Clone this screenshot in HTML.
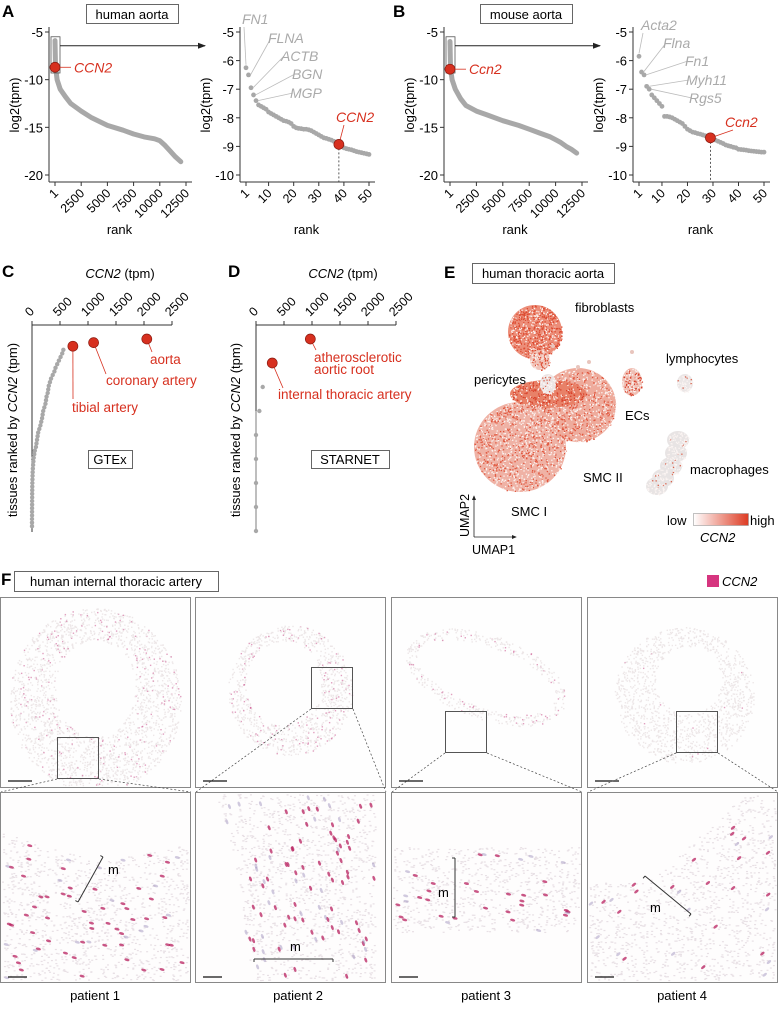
<!DOCTYPE html>
<html><head><meta charset="utf-8"><style>
html,body{margin:0;padding:0;background:#fff;}
svg{display:block;font-family:"Liberation Sans",Arial,sans-serif;}
</style></head><body>
<svg id="fig" width="778" height="1015" viewBox="0 0 778 1015" xmlns="http://www.w3.org/2000/svg">
<defs>
<marker id="arr" markerWidth="8" markerHeight="8" refX="7" refY="4" orient="auto"><path d="M0,1 L8,4 L0,7 z" fill="#222"/></marker>
<marker id="arrs" markerWidth="6" markerHeight="6" refX="5" refY="3" orient="auto"><path d="M0,0.5 L6,3 L0,5.5 z" fill="#222"/></marker>
<linearGradient id="cbar" x1="0" x2="1" y1="0" y2="0"><stop offset="0" stop-color="#ffffff"/><stop offset="1" stop-color="#dd3a22"/></linearGradient>
</defs>
<g id="static" font-size="13">
<text x="2" y="17" font-weight="bold" font-size="17">A</text>
<text x="393" y="17" font-weight="bold" font-size="17">B</text>
<text x="2" y="277" font-weight="bold" font-size="17">C</text>
<text x="228" y="277" font-weight="bold" font-size="17">D</text>
<text x="444" y="278" font-weight="bold" font-size="17">E</text>
<text x="1" y="585" font-weight="bold" font-size="17">F</text>
<g><rect x="86.5" y="4.5" width="92" height="19" fill="none" stroke="#666"/><text x="132" y="19" text-anchor="middle">human aorta</text></g>
<g><rect x="480.5" y="4.5" width="92" height="19" fill="none" stroke="#666"/><text x="526" y="19" text-anchor="middle">mouse aorta</text></g>
<g><rect x="472.5" y="263.5" width="142" height="20" fill="none" stroke="#666"/><text x="543" y="278" text-anchor="middle">human thoracic aorta</text></g>
<g><rect x="14.5" y="571.5" width="204" height="20" fill="none" stroke="#666"/><text x="116" y="586" text-anchor="middle">human internal thoracic artery</text></g>
<text x="120" y="278" text-anchor="middle"><tspan font-style="italic">CCN2</tspan> (tpm)</text>
<text x="343" y="278" text-anchor="middle"><tspan font-style="italic">CCN2</tspan> (tpm)</text>
<text transform="translate(17,430) rotate(-90)" text-anchor="middle">tissues ranked by <tspan font-style="italic">CCN2</tspan> (tpm)</text>
<text transform="translate(240,430) rotate(-90)" text-anchor="middle">tissues ranked by <tspan font-style="italic">CCN2</tspan> (tpm)</text>
<g><rect x="88.5" y="450.5" width="44" height="18" fill="none" stroke="#666"/><text x="110" y="464" text-anchor="middle">GTEx</text></g>
<g><rect x="311.5" y="450.5" width="78" height="18" fill="none" stroke="#666"/><text x="350" y="464" text-anchor="middle">STARNET</text></g>
<rect x="707" y="575" width="12" height="12" fill="#d6357f"/>
<text x="722" y="586" font-style="italic">CCN2</text>
<text x="95" y="1000" text-anchor="middle">patient 1</text>
<text x="298" y="1000" text-anchor="middle">patient 2</text>
<text x="486" y="1000" text-anchor="middle">patient 3</text>
<text x="682" y="1000" text-anchor="middle">patient 4</text>
</g>
<g id="dyn"></g>
</svg>
<script>
// ---- DATA ----
const humanRanks=[1,50,200,500,1000,1500,2500,3500,5000,6500,7500,8500,9500,10000,10500,11000,11500,12000];
const humanVals=[-5.9,-8.6,-10,-11,-11.8,-12.5,-13.3,-14.0,-14.8,-15.3,-15.7,-16.0,-16.2,-16.4,-16.9,-17.5,-18.1,-18.6];
const mouseRanks=[1,50,200,500,1000,1500,2500,3500,5000,6500,7500,8500,9500,10000,10500,11000,11500,12000];
const mouseVals=[-6.0,-8.8,-10,-11,-12.0,-12.7,-13.3,-13.7,-14.3,-14.8,-15.2,-15.6,-16.0,-16.3,-16.6,-17.0,-17.3,-17.7];
const humanTop50=[-6.25,-6.5,-6.95,-7.2,-7.4,-7.55,-7.6,-7.65,-7.7,-7.8,-7.85,-7.9,-7.95,-8.0,-8.05,-8.1,-8.12,-8.15,-8.2,-8.3,-8.35,-8.37,-8.38,-8.4,-8.4,-8.42,-8.45,-8.5,-8.55,-8.6,-8.65,-8.7,-8.72,-8.75,-8.78,-8.82,-8.88,-8.93,-9.0,-9.05,-9.08,-9.1,-9.12,-9.15,-9.18,-9.2,-9.22,-9.24,-9.26,-9.28];
const humanTopLabels=["FN1","FLNA","ACTB","BGN","MGP"];
const humanHighlightRank=38;
const mouseTop50=[-5.85,-6.4,-6.5,-6.9,-7.0,-7.2,-7.3,-7.4,-7.5,-7.6,-7.95,-7.95,-7.97,-8.0,-8.05,-8.1,-8.15,-8.2,-8.3,-8.4,-8.45,-8.5,-8.52,-8.55,-8.57,-8.6,-8.63,-8.67,-8.7,-8.75,-8.78,-8.82,-8.86,-8.9,-8.95,-8.98,-9.0,-9.03,-9.05,-9.1,-9.11,-9.12,-9.13,-9.15,-9.16,-9.17,-9.18,-9.19,-9.2,-9.2];
const mouseTopLabels=["Acta2","Flna","Fn1","Myh11","Rgs5"];
const mouseHighlightRank=29;
const rankTicks=[1,2500,5000,7500,10000,12500];
const zoomTicks=[1,10,20,30,40,50];
const log2Ticks=[-5,-10,-15,-20];
const log2ZoomTicks=[-5,-6,-7,-8,-9,-10];
const tpmTicks=[0,500,1000,1500,2000,2500];
const gtexVals=[2050,1100,730,560,540,510,480,450,420,400,370,340,320,300,290,280,260,250,240,220,200,190,180,165,150,130,110,100,90,80,70,50,40,30,25,20,15,12,10,8,6,5,4,3,3,2,2,1,1,1,0,0,0];
const gtexLabels=["aorta","coronary artery","tibial artery"];
const starnetVals=[970,290,120,60,0,0,0,0,0];
const starnetLabels=[["atherosclerotic","aortic root"],["internal thoracic artery"]];

const NS="http://www.w3.org/2000/svg";
const root=document.getElementById('dyn');
function mk(tag,attrs,parent){const e=document.createElementNS(NS,tag);for(const k in attrs)e.setAttribute(k,attrs[k]);(parent||root).appendChild(e);return e;}
function txt(s,attrs,parent){const e=mk('text',attrs,parent);e.textContent=s;return e;}
const RED="#d7301f", GRAY="#a8a8a8";

function rankPlot(o){
  const g=mk('g',{});
  
  
  const X=r=>o.x0+(r-1)*(o.x1-o.x0)/(12500-1);
  const Y=v=>32+(v+5)*(175-32)/(-15);
  mk('line',{x1:o.ax,y1:27,x2:o.ax,y2:182,stroke:'#333'},g);
  mk('line',{x1:o.ax,y1:182,x2:o.x1+6,y2:182,stroke:'#333'},g);
  log2Ticks.forEach(t=>{mk('line',{x1:o.ax-4,y1:Y(t),x2:o.ax,y2:Y(t),stroke:'#333'},g);
    const l=txt(String(t),{x:o.ax-6,y:Y(t)+5,'text-anchor':'end','font-size':13},g);
    });
  rankTicks.forEach(t=>{mk('line',{x1:X(t),y1:182,x2:X(t),y2:186,stroke:'#333'},g);
    const l=txt(String(t),{transform:`translate(${X(t)+4},${194}) rotate(-45)`,'text-anchor':'end','font-size':12.5},g);
    });
  const t=txt('rank',{x:(o.ax+o.x1)/2+2,y:234,'text-anchor':'middle','font-size':13},g);
  
  const yl=txt('log2(tpm)',{transform:`translate(${o.ax-30},105) rotate(-90)`,'text-anchor':'middle','font-size':13},g);
  
  let d='';o.ranks.forEach((r,i)=>{d+=(i?'L':'M')+X(r).toFixed(1)+','+Y(o.vals[i]).toFixed(1);});
  const p=mk('path',{d:d,fill:'none',stroke:GRAY,'stroke-width':5,'stroke-linecap':'round','stroke-linejoin':'round'},g);
  
  const bx=X(1)-4,by=Y(-5.5),bh=Y(o.boxLow)-by;
  mk('rect',{x:bx,y:by,width:9,height:bh,fill:'none',stroke:'#555','stroke-width':0.8},g);
  mk('line',{x1:bx+9,y1:by+9,x2:o.arrowTo,y2:by+9,stroke:'#222','marker-end':'url(#arr)'},g);
  const c=mk('circle',{cx:X(1),cy:Y(o.hl),r:5,fill:RED,stroke:'#8a1a10','stroke-width':0.7},g);
  
  mk('line',{x1:X(1)+5,y1:Y(o.hl),x2:X(1)+16,y2:Y(o.hl),stroke:RED,'stroke-width':0.8},g);
  const hl=txt(o.hlName,{x:X(1)+19,y:Y(o.hl)+5,fill:RED,'font-style':'italic','font-size':14},g);
  
}
function zoomPlot(o){
  const g=mk('g',{});
  
  
  const X=r=>o.x0+(r-1)*(o.x1-o.x0)/49;
  const Y=v=>32+(v+5)*(175-32)/(-5);
  mk('line',{x1:o.ax,y1:27,x2:o.ax,y2:182,stroke:'#333'},g);
  mk('line',{x1:o.ax,y1:182,x2:o.x1+6,y2:182,stroke:'#333'},g);
  log2ZoomTicks.forEach(t=>{mk('line',{x1:o.ax-4,y1:Y(t),x2:o.ax,y2:Y(t),stroke:'#333'},g);
    const l=txt(String(t),{x:o.ax-6,y:Y(t)+5,'text-anchor':'end','font-size':13},g);
    });
  zoomTicks.forEach(t=>{mk('line',{x1:X(t),y1:182,x2:X(t),y2:186,stroke:'#333'},g);
    const l=txt(String(t),{transform:`translate(${X(t)+4},${194}) rotate(-45)`,'text-anchor':'end','font-size':12.5},g);
    });
  const t=txt('rank',{x:(o.ax+o.x1)/2+2,y:234,'text-anchor':'middle','font-size':13},g);
  
  const yl=txt('log2(tpm)',{transform:`translate(${o.ax-30},105) rotate(-90)`,'text-anchor':'middle','font-size':13},g);
  
  o.vals.forEach((v,i)=>{const c=mk('circle',{cx:X(i+1),cy:Y(v),r:2.4,fill:GRAY},g);
    });
  o.labels.forEach((s,i)=>{const lx=o.lab[i][0],ly=o.lab[i][1];
    const px=X(o.labRanks[i]),py=Y(o.vals[o.labRanks[i]-1]);
    if(i===0) mk('line',{x1:px,y1:py-3,x2:lx+2,y2:ly+3,stroke:'#bbb','stroke-width':0.8},g);
    else mk('line',{x1:px+2,y1:py,x2:lx+3,y2:ly-5,stroke:'#bbb','stroke-width':0.8},g);
    const l=txt(s,{x:lx,y:ly,fill:'#aaa','font-style':'italic','font-size':14},g);
    });
  const hx=X(o.hr),hy=Y(o.vals[o.hr-1]);
  mk('line',{x1:hx,y1:hy,x2:hx,y2:182,stroke:'#333','stroke-dasharray':'2,2','stroke-width':0.8},g);
  mk('line',{x1:hx,y1:hy,x2:o.hlPos[0]+8,y2:o.hlPos[1]+3,stroke:RED,'stroke-width':0.8},g);
  const c=mk('circle',{cx:hx,cy:hy,r:5,fill:RED,stroke:'#8a1a10','stroke-width':0.7},g);
  
  const hl=txt(o.hlName,{x:o.hlPos[0],y:o.hlPos[1],fill:RED,'font-style':'italic','font-size':14},g);
  
}
rankPlot({name:'human-aorta-rank-plot',ax:49,x0:55,x1:186,ranks:humanRanks,vals:humanVals,hl:humanTop50[humanHighlightRank-1]+0.23,hlName:'CCN2',boxLow:-9.3,arrowTo:205});
zoomPlot({name:'human-aorta-top50-plot',ax:240,x0:246,x1:369,vals:humanTop50,labels:humanTopLabels,labRanks:[1,2,3,4,5],lab:[[242,24],[268,43],[281,61],[292,79],[290,98]],hr:humanHighlightRank,hlName:'CCN2',hlPos:[336,122]});
rankPlot({name:'mouse-aorta-rank-plot',ax:444,x0:450,x1:582,ranks:mouseRanks,vals:mouseVals,hl:mouseTop50[mouseHighlightRank-1]-0.2,hlName:'Ccn2',boxLow:-9.3,arrowTo:600});
zoomPlot({name:'mouse-aorta-top50-plot',ax:633,x0:639,x1:764,vals:mouseTop50,labels:mouseTopLabels,labRanks:[1,2,3,4,5],lab:[[641,30],[663,48],[685,66],[686,85],[689,103]],hr:mouseHighlightRank,hlName:'Ccn2',hlPos:[725,127]});

function tissuePlot(o){
  const g=mk('g',{});
  
  
  const X=v=>o.ax+v*140/2500;
  const Y=i=>339+i*o.step;
  mk('line',{x1:o.ax,y1:325,x2:o.ax+140,y2:325,stroke:'#333'},g);
  mk('line',{x1:o.ax,y1:325,x2:o.ax,y2:532,stroke:'#333'},g);
  tpmTicks.forEach(t=>{mk('line',{x1:X(t),y1:321,x2:X(t),y2:325,stroke:'#333'},g);
    const l=txt(String(t),{transform:`translate(${X(t)-2},${317}) rotate(-45)`,'font-size':12.5},g);
    });
  if(o.line) mk('line',{x1:o.ax,y1:Y(o.nred+1),x2:o.ax,y2:Y(o.vals.length-1),stroke:GRAY,'stroke-width':1.5},g);
  o.vals.forEach((v,i)=>{if(i<o.nred)return;const c=mk('circle',{cx:X(v),cy:Y(i),r:2.2,fill:GRAY},g);
    });
  o.labels.forEach((lines,i)=>{const cx=X(o.vals[i]),cy=Y(i);const [lx,ly,tx,ty]=o.lp[i];
    mk('line',{x1:cx,y1:cy,x2:lx,y2:ly,stroke:RED,'stroke-width':0.8},g);
    const c=mk('circle',{cx:cx,cy:cy,r:5,fill:RED,stroke:'#8a1a10','stroke-width':0.7},g);
    
    (Array.isArray(lines)?lines:[lines]).forEach((s,j)=>{const l=txt(s,{x:tx,y:ty+j*12,fill:RED,'font-size':13.5},g);
      });});
}
tissuePlot({name:'gtex-tissue-plot',ax:32,step:3.6,vals:gtexVals,nred:3,labels:gtexLabels,line:false,
  lp:[[152,352,150,364],[106,374,106,385],[73,399,72,412]]});
tissuePlot({name:'starnet-tissue-plot',ax:256,step:24,vals:starnetVals,nred:2,labels:starnetLabels,line:true,
  lp:[[316,350,314,362],[283,388,278,399]]});

// ---- UMAP (decorative texture) ----
let seed=7;function rnd(){seed=(seed*16807)%2147483647;return seed/2147483647;}
const um=mk('g',{});


function blob(cx,cy,rx,ry,n,base,dot,frac){
  mk('ellipse',{cx:cx,cy:cy,rx:rx,ry:ry,fill:base},um);
  for(let i=0;i<n;i++){const a=rnd()*6.283,r=Math.sqrt(rnd());const x=cx+Math.cos(a)*r*rx,y=cy+Math.sin(a)*r*ry;
    mk('rect',{x:x,y:y,width:1.3,height:1.3,fill:rnd()<frac?dot:'#fbf4f2'},um);}
}
blob(520,447,46,45,1100,'#efb2a5','#e0553c',0.45);
blob(578,405,38,37,800,'#eeab9c','#e0553c',0.45);
blob(548,394,38,14,300,'#e88168','#d8402a',0.6);
blob(535,332,27,27,600,'#ec8d78','#dc4a30',0.6);
blob(540,360,10,10,80,'#f1c3b8','#dc4a30',0.45);
blob(548,384,8,10,60,'#ece4e4','#d8604a',0.25);
blob(632,382,10,14,120,'#f0bfb4','#d8402a',0.5);
blob(685,383,8,9,50,'#ebe6e6','#d8604a',0.15);
[[678,440],[676,453],[671,466],[663,478],[657,486]].forEach(p=>blob(p[0],p[1],11,9,60,'#e8e4e4','#d8604a',0.1));
[[553,346],[632,352],[589,362],[578,367]].forEach(p=>mk('circle',{cx:p[0],cy:p[1],r:2,fill:'#e8c5bd'},um));
const ul=[['fibroblasts',575,312],['lymphocytes',666,363],['pericytes',474,384],['ECs',625,420],['macrophages',690,474],['SMC II',583,482],['SMC I',511,516]];
ul.forEach(a=>{const l=txt(a[0],{x:a[1],y:a[2],'font-size':13},um);});
mk('line',{x1:474,y1:537,x2:474,y2:496,stroke:'#222','stroke-width':0.8,'marker-end':'url(#arrs)'},um);
mk('line',{x1:474,y1:537,x2:516,y2:537,stroke:'#222','stroke-width':0.8,'marker-end':'url(#arrs)'},um);
txt('UMAP2',{transform:'translate(469,537) rotate(-90)','font-size':12.5},um);
txt('UMAP1',{x:472,y:554,'font-size':12.5},um);
txt('low',{x:667,y:525,'font-size':13},um);
const cb=mk('rect',{x:693.5,y:513.5,width:55,height:12,fill:'url(#cbar)',stroke:'#999','stroke-width':0.6},um);

txt('high',{x:750,y:525,'font-size':13},um);
txt('CCN2',{x:700,y:542,'font-size':13,'font-style':'italic'},um);

// ---- Histology panels (decorative) ----
const cols=[0,195,391,587];
const tops=[[57,737],[311,667],[445,711],[676,711]];
function inRing(k,x,y){
  if(k===0){const a=((x-95)/86)**2+((y-700)/92)**2, b=((x-95)/40)**2+((y-688)/48)**2;return a<1&&b>1;}
  if(k===1){const a=((x-290)/62)**2+((y-690)/65)**2, b=((x-283)/38)**2+((y-683)/42)**2;return a<1&&b>1;}
  if(k===2){const dx=x-486,dy=y-677,c=Math.cos(0.35),s=Math.sin(0.35);const u=dx*c+dy*s,v=-dx*s+dy*c;
    const a=(u/84)**2+(v/42)**2, b=(u/72)**2+(v/30)**2;return a<1&&b>1;}
  const a=((x-684)/70)**2+((y-695)/68)**2, b=((x-688)/33)**2+((y-680)/34)**2;return a<1&&b>1;
}
const dens=[0.5,0.7,0.6,0.05];
for(let k=0;k<4;k++){
  const x0=cols[k];
  const g=mk('g',{});
  
  
  mk('rect',{x:x0+0.5,y:597.5,width:190,height:190,fill:'#fefefe',stroke:'#888'},g);
  for(let i=0;i<4000;i++){const x=x0+2+rnd()*186,y=599+rnd()*186;
    if(inRing(k,x,y)){const pink=rnd()<dens[k]*0.2;mk('rect',{x:x,y:y,width:1.4,height:1.4,fill:pink?'#c9508a':'#ebe4e6','fill-opacity':pink?0.55:0.9},g);}}
  mk('line',{x1:x0+8,y1:781,x2:x0+32,y2:781,stroke:'#111','stroke-width':1.2},g);
  const [sx,sy]=tops[k];
  mk('rect',{x:sx+0.5,y:sy+0.5,width:41,height:41,fill:'none',stroke:'#555'},g);
  mk('line',{x1:sx,y1:sy+42,x2:x0+1,y2:792,stroke:'#444','stroke-dasharray':'2,2','stroke-width':0.7},root);
  mk('line',{x1:sx+42,y1:sy+42,x2:x0+191,y2:792,stroke:'#444','stroke-dasharray':'2,2','stroke-width':0.7},root);
  const b=mk('g',{});
  
  
  mk('rect',{x:x0+0.5,y:792.5,width:190,height:190,fill:'#fefdfd',stroke:'#888'},b);
  const tissue=(x,y)=>{const lx=x-x0,ly=y-792;
    if(k===0) return ly>40+lx*0.3-(lx>100?(lx-100)*0.5:0)|| ly>75;
    if(k===1) return lx>20+ (ly<60?ly*0.3:18+ (ly-60)*0.15) && lx<180;
    if(k===2) return ly>55 && ly<140;
    return (ly>95-(lx-55)*0.9 && lx>55) || (ly>90 && lx<=55);};
  for(let i=0;i<1600;i++){const x=x0+2+rnd()*186,y=794+rnd()*186;if(tissue(x,y))mk('rect',{x:x,y:y,width:2,height:1.2,fill:'#e8e0e5'},b);}
  const nc=[110,130,80,45][k];
  for(let i=0;i<nc;i++){const x=x0+4+rnd()*182,y=796+rnd()*182;if(!tissue(x,y))continue;
    const mag=rnd()<0.7;mk('ellipse',{cx:x,cy:y,rx:2.6,ry:1.3,transform:`rotate(${k===1?70:(k===3?-40:15)} ${x} ${y})`,fill:mag?'#b8205f':'#9a8ab8','fill-opacity':mag?0.75:0.45},b);}
  mk('line',{x1:x0+8,y1:977,x2:x0+27,y2:977,stroke:'#111','stroke-width':1.2},b);
}
const br=[[103,857,78,902,108,874],[254,959,333,959,290,951],[455,858,455,917,438,897],[645,876,691,914,650,912]];
br.forEach((a,i)=>{const g=mk('g',{});
  mk('line',{x1:a[0],y1:a[1],x2:a[2],y2:a[3],stroke:'#333','stroke-width':1},g);
  const dx=a[2]-a[0],dy=a[3]-a[1],L=Math.hypot(dx,dy),nx=-dy/L*3,ny=dx/L*3;
  mk('line',{x1:a[0],y1:a[1],x2:a[0]+nx,y2:a[1]+ny,stroke:'#333'},g);
  mk('line',{x1:a[2],y1:a[3],x2:a[2]+nx,y2:a[3]+ny,stroke:'#333'},g);
  txt('m',{x:a[4],y:a[5],'font-size':13},g);});
</script>
</body></html>
